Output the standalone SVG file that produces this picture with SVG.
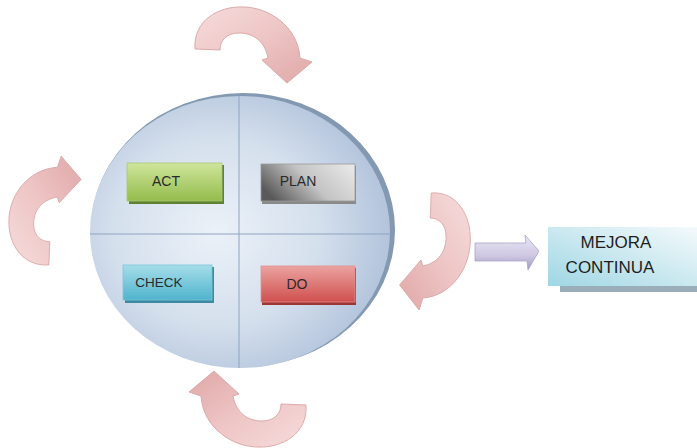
<svg xmlns="http://www.w3.org/2000/svg" width="697" height="448" viewBox="0 0 697 448">
  <style>
    .lbl { font-family: "Liberation Sans", Arial, sans-serif; font-size: 14px; fill: #2a2a2a; text-anchor: middle; }
    .big { font-family: "Liberation Sans", Arial, sans-serif; font-size: 17px; fill: #1e1e1e; text-anchor: middle; }
    .div { stroke: #8ea4c2; stroke-width: 1; }
    .curl { fill: url(#pink); stroke: #dcaaaa; stroke-width: 1; }
  </style>
  <defs>
    <linearGradient id="pink" x1="0" y1="0" x2="1" y2="1">
      <stop offset="0" stop-color="#f6dcdc"/>
      <stop offset="0.5" stop-color="#eec5c5"/>
      <stop offset="1" stop-color="#e0a7a7"/>
    </linearGradient>
    <radialGradient id="disc" cx="0.42" cy="0.5" r="0.62">
      <stop offset="0" stop-color="#ebf1f8"/>
      <stop offset="0.55" stop-color="#d5e0ed"/>
      <stop offset="1" stop-color="#adbfd9"/>
    </radialGradient>
    <linearGradient id="green" x1="0" y1="0" x2="0" y2="1">
      <stop offset="0" stop-color="#cfe59c"/>
      <stop offset="1" stop-color="#94bc4c"/>
    </linearGradient>
    <linearGradient id="gray" x1="0" y1="0.6" x2="1" y2="0.2">
      <stop offset="0" stop-color="#5a5a5a"/>
      <stop offset="0.5" stop-color="#c4c4c4"/>
      <stop offset="1" stop-color="#e6e6e6"/>
    </linearGradient>
    <linearGradient id="cyan" x1="0" y1="0" x2="0" y2="1">
      <stop offset="0" stop-color="#a6dde9"/>
      <stop offset="1" stop-color="#4fb4cd"/>
    </linearGradient>
    <linearGradient id="red" x1="0" y1="0" x2="0" y2="1">
      <stop offset="0" stop-color="#eba3a1"/>
      <stop offset="1" stop-color="#cf4f4d"/>
    </linearGradient>
    <linearGradient id="lav" x1="0" y1="0" x2="0" y2="1">
      <stop offset="0" stop-color="#ebe8f5"/>
      <stop offset="0.6" stop-color="#cdc7e2"/>
      <stop offset="1" stop-color="#9f98c2"/>
    </linearGradient>
    <linearGradient id="mej" x1="0" y1="1" x2="1" y2="0">
      <stop offset="0" stop-color="#9fd6e4"/>
      <stop offset="0.6" stop-color="#d3ecf2"/>
      <stop offset="1" stop-color="#f4fafc"/>
    </linearGradient>
    <path id="curlShape" d="M -58,3 C -60,-25 -35,-40 -10,-39 C 15,-39 45,-20 47,12 L 59,16 L 34,37 L 9,14 L 15,12 C 12,-5 0,-13 -14,-13 C -27,-13 -33,-5 -33,4 Z"/>
  </defs>

  <rect width="697" height="448" fill="#ffffff"/>

  <g id="cycle-arrows">
    <use href="#curlShape" class="curl" transform="translate(253,46)"/>
    <use href="#curlShape" class="curl" transform="translate(434,251) rotate(90) scale(1,0.93)"/>
    <use href="#curlShape" class="curl" transform="translate(248,408) rotate(180)"/>
    <use href="#curlShape" class="curl" transform="translate(46,211) rotate(-90) scale(0.93,0.95)"/>
  </g>

  <g id="disc-node">
    <ellipse cx="243" cy="230" rx="152" ry="137" fill="#8299b1"/>
    <ellipse cx="240" cy="232" rx="150" ry="136" fill="url(#disc)"/>
    <line class="div" x1="239" y1="96" x2="239" y2="368"/>
    <line class="div" x1="90" y1="234" x2="390" y2="234"/>
  </g>

  <g id="act">
    <rect x="129" y="165" width="95" height="39" fill="#5f8232"/>
    <rect x="127" y="163" width="95" height="38" fill="url(#green)" stroke="#a9c874" stroke-width="0.8"/>
    <text class="lbl" x="166" y="186">ACT</text>
  </g>

  <g id="plan">
    <rect x="262" y="166" width="94" height="38" fill="#8a8a8a"/>
    <rect x="261" y="164" width="94" height="37" fill="url(#gray)" stroke="#9a9a9a" stroke-width="0.8"/>
    <text class="lbl" x="298" y="186">PLAN</text>
  </g>

  <g id="check">
    <rect x="125" y="267" width="89" height="36" fill="#3d8aa2"/>
    <rect x="123" y="265" width="89" height="35" fill="url(#cyan)" stroke="#7cc6d8" stroke-width="0.8"/>
    <text class="lbl" x="159" y="287" style="font-size:13.5px">CHECK</text>
  </g>

  <g id="do">
    <rect x="262" y="268" width="94" height="37" fill="#9d3533"/>
    <rect x="261" y="266" width="94" height="36" fill="url(#red)" stroke="#e09290" stroke-width="0.8"/>
    <text class="lbl" x="297" y="289">DO</text>
  </g>

  <g id="connectors">
    <path d="M 475,243 L 526,243 L 525,235 L 539,251 L 528,270 L 527,261 L 475,261 Z" fill="url(#lav)" stroke="#aaa3c9" stroke-width="0.8"/>
  </g>

  <g id="mejora-continua">
    <rect x="560" y="232" width="137" height="60" fill="#9aaeb9"/>
    <rect x="548" y="227" width="149" height="59" fill="url(#mej)"/>
    <text class="big" x="616" y="248">MEJORA</text>
    <text class="big" x="610" y="273">CONTINUA</text>
  </g>
</svg>
